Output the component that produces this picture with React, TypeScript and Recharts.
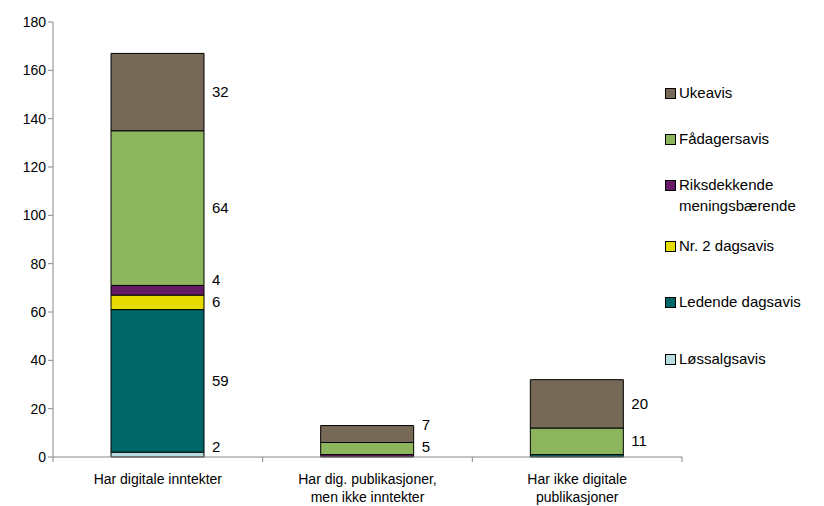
import React from 'react';
import { BarChart, Bar, XAxis, YAxis, LabelList } from 'recharts';

// categories (x axis)
const categories = [
  'Har digitale inntekter',
  'Har dig. publikasjoner,\nmen ikke inntekter',
  'Har ikke digitale\npublikasjoner',
];

// series values, bottom to top
const loessalgsavis = [2, 0, 0];
const ledendeDagsavis = [59, 0, 1];
const nr2Dagsavis = [6, 0, 0];
const riksdekkende = [4, 1, 0];
const faadagersavis = [64, 5, 11];
const ukeavis = [32, 7, 20];

const yTicks = [0, 20, 40, 60, 80, 100, 120, 140, 160, 180];

const series = [
  { key: 'loessalgsavis', name: 'Løssalgsavis', values: loessalgsavis, color: '#b7dde1' },
  { key: 'ledende', name: 'Ledende dagsavis', values: ledendeDagsavis, color: '#006666' },
  { key: 'nr2', name: 'Nr. 2 dagsavis', values: nr2Dagsavis, color: '#e6dc00' },
  { key: 'riks', name: 'Riksdekkende\nmeningsbærende', values: riksdekkende, color: '#661a66' },
  { key: 'faadager', name: 'Fådagersavis', values: faadagersavis, color: '#8db55e' },
  { key: 'uke', name: 'Ukeavis', values: ukeavis, color: '#766957' },
];

const data = categories.map((name, i) => {
  const row: any = { name };
  series.forEach((s) => {
    row[s.key] = s.values[i];
  });
  return row;
});

const FONT = '"Liberation Sans", Arial, sans-serif';

const MARGIN = { top: 22, right: 142, bottom: 9, left: 8 };
const Y_WIDTH = 45;
const W = 824;
const H = 506;
const BAR_W = 93;
const plotLeft = MARGIN.left + Y_WIDTH;
const bandWidth = (W - MARGIN.left - MARGIN.right - Y_WIDTH) / categories.length;

const CategoryTick = (props: any) => {
  const { x, y, payload, index } = props;
  const lines = String(payload.value).split('\n');
  return (
    <g>
      <line x1={x - bandWidth / 2} y1={y - 8} x2={x - bandWidth / 2} y2={y - 3} stroke="#888" />
      {index === categories.length - 1 && (
        <line x1={x + bandWidth / 2} y1={y - 8} x2={x + bandWidth / 2} y2={y - 3} stroke="#888" />
      )}
      <text x={x} y={y + 19} textAnchor="middle" fontSize={14} fontFamily={FONT} fill="#000">
        {lines.map((l, i) => (
          <tspan key={i} x={x} dy={i === 0 ? 0 : 18}>
            {l}
          </tspan>
        ))}
      </text>
    </g>
  );
};

// label y positions inside one bar, pushed apart like Excel does
const labelY = (cat: number, key: string, base: number, k: number) => {
  let cum = 0;
  let prev = Infinity;
  let out = 0;
  series.forEach((s) => {
    const v = s.values[cat];
    if (v >= 2) {
      let y = base - (cum + v / 2) * k;
      y = Math.min(y, base - 10, prev - 22);
      prev = y;
      if (s.key === key) out = y;
    }
    cum += v;
  });
  return out;
};

const makeLabel = (key: string, idx: number) => (props: any) => {
  const vb = props.viewBox || props;
  const value = Number(props.value);
  if (!value || value < 2) return null;
  const x = Number(vb.x);
  const y = Number(vb.y);
  const height = Number(vb.height);
  const cat = Math.max(0, Math.min(categories.length - 1, Math.floor((x - plotLeft) / bandWidth)));
  const k = height / value;
  let cum = 0;
  for (let j = 0; j < idx; j++) cum += series[j].values[cat];
  const base = y + height + cum * k;
  const ly = labelY(cat, key, base, k);
  return (
    <text x={x + BAR_W + 8} y={ly} dy={5} fontSize={15} fontFamily={FONT} fill="#000">
      {value}
    </text>
  );
};

const legendTops = [83, 129, 175, 236, 292, 349];

const LegendBox = () => {
  const items = [...series].reverse();
  return (
    <div
      style={{
        position: 'absolute',
        left: 665,
        top: 0,
        width: 160,
        height: 400,
        fontFamily: FONT,
        fontSize: 15,
      }}
    >
      {items.map((s, i) => (
        <div key={s.key} style={{ position: 'absolute', top: legendTops[i], left: 0, display: 'flex' }}>
          <div
            style={{
              width: 9,
              height: 9,
              background: s.color,
              border: '1px solid #000',
              marginTop: 5,
              marginRight: 3,
            }}
          />
          <div style={{ whiteSpace: 'pre', lineHeight: '21px', marginTop: -1 }}>{s.name}</div>
        </div>
      ))}
    </div>
  );
};

export default function App() {
  return (
    <div style={{ position: 'absolute', left: 0, top: 0, width: W, height: H, background: '#fff' }}>
      <BarChart width={W} height={H} data={data} margin={MARGIN} barSize={BAR_W}>
        <XAxis
          dataKey="name"
          tick={<CategoryTick />}
          tickLine={false}
          axisLine={{ stroke: '#888' }}
          interval={0}
          height={40}
        />
        <YAxis
          domain={[0, 180]}
          ticks={yTicks}
          width={Y_WIDTH}
          axisLine={{ stroke: '#888' }}
          tickLine={{ stroke: '#888' }}
          tickSize={5}
          tick={{ fontSize: 14, fontFamily: FONT, fill: '#000' }}
          interval={0}
        />
        {series.map((s, idx) => (
          <Bar
            key={s.key}
            dataKey={s.key}
            name={s.name}
            stackId="a"
            fill={s.color}
            stroke="#000"
            strokeWidth={1}
            isAnimationActive={false}
          >
            <LabelList dataKey={s.key} content={makeLabel(s.key, idx)} />
          </Bar>
        ))}
      </BarChart>
      <LegendBox />
    </div>
  );
}
